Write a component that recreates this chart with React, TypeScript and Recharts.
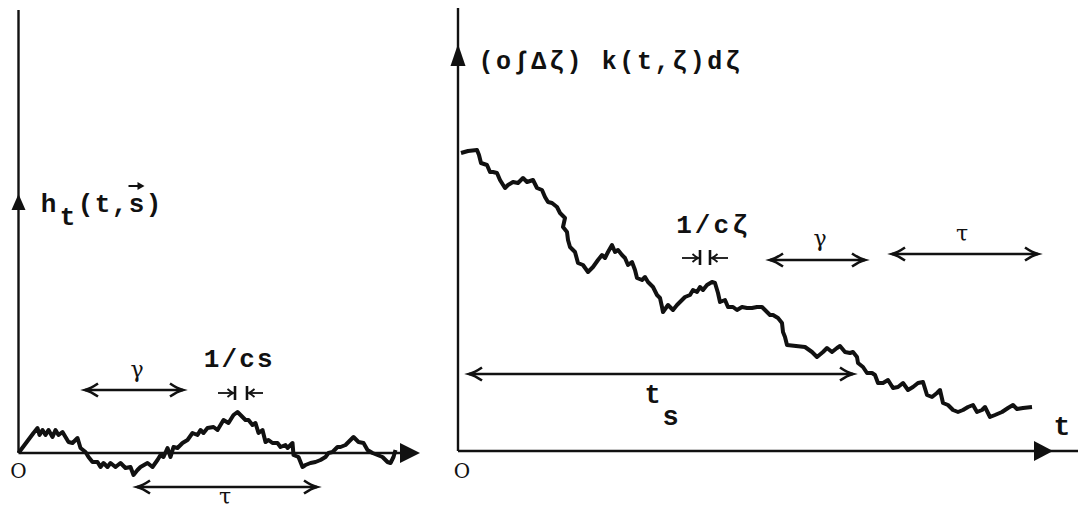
import React from "react";
import { LineChart, Line, XAxis, YAxis, ReferenceLine, ReferenceDot } from "recharts";

// ---------- data: left panel  h_t(t, s) ----------
const leftT = [0,1.5,1.9,2.1,2.4,2.7,3.0,3.4,3.7,4.0,4.4,4.7,5.0,5.4,5.9,6.2,6.7,7.0,7.4,7.9,8.2,8.5,8.9,9.2,9.7,10.2,10.7,11.2,11.5,11.9,12.2,12.9,13.4,13.9,14.2,14.5,14.9,15.2,15.5,15.9,16.4,16.9,17.4,17.9,18.2,18.5,18.9,19.5,19.9,20.2,20.5,21.0,21.5,21.9,22.2,22.7,23.0,23.4,23.7,24.0,24.4,24.7,25.0,25.4,25.9,26.2,26.7,26.9,27.4,27.5,28.0,28.4,28.7,29.2,29.7,30.2,30.7,31.0,31.4,31.9,32.2,32.7,33.2,33.5,34.0,34.5,34.9,35.4,35.9,36.4,36.9,37.2,37.5,37.7];
const leftH = [0,2.0,2.5,1.8,2.3,1.8,2.3,1.6,2.3,1.8,2.1,1.6,1.1,1.0,1.5,0.5,0.1,-0.4,-0.9,-0.9,-1.4,-1.0,-1.4,-1.0,-1.4,-1.0,-1.5,-1.4,-2.2,-1.7,-1.4,-1.0,-1.4,-0.7,-0.2,-0.4,0.5,-0.4,0.6,0.5,1.0,1.3,2.0,1.8,2.3,2.0,2.5,2.6,2.3,2.8,3.3,3.0,3.8,4.1,3.8,3.3,3.3,2.8,3.0,2.0,2.3,1.1,1.3,1.0,1.0,0.6,0.8,0.5,1.0,-0.2,-0.4,-1.4,-1.2,-1.0,-0.9,-0.7,-0.4,0,0.1,0.6,0.6,0.8,1.3,1.6,1.1,1.0,0.3,0,-0.2,-0.4,-0.9,-1.0,-0.4,0.3];

// ---------- data: right panel  (o∫Δζ) k(t,ζ)dζ ----------
const rightT = [0.3,1.0,1.9,2.1,2.3,2.9,3.2,3.5,3.9,4.2,4.7,5.0,5.5,6.0,6.5,6.9,7.5,7.9,8.4,8.7,9.0,9.4,9.9,10.2,10.7,10.5,10.9,11.0,11.2,11.7,12.0,12.5,13.0,13.5,14.0,14.4,14.7,15.0,15.4,15.7,16.0,16.4,16.7,17.0,17.4,17.7,17.9,18.4,18.7,19.0,19.5,19.9,20.2,20.4,20.5,21.0,21.5,21.9,22.4,22.7,23.2,23.5,23.9,24.2,24.5,24.9,25.4,25.7,26.0,26.2,26.7,27.0,27.5,27.9,28.4,28.9,29.4,29.9,30.4,30.7,31.2,31.5,32.0,32.4,32.5,32.7,32.9,34.7,35.4,35.9,36.5,36.9,37.4,37.9,38.2,38.7,39.2,39.5,39.9,40.0,40.5,40.9,41.4,41.7,42.0,42.5,43.0,43.5,44.0,44.5,45.0,45.5,46.0,46.5,46.9,47.4,47.9,48.2,48.5,49.0,49.5,50.0,50.5,51.0,51.5,51.9,52.4,52.7,53.2,53.7,54.4,55.0,55.5,55.9,56.5,57.4];
const rightK = [29.8,30.0,30.1,29.6,28.8,28.6,27.9,27.9,27.8,27.1,26.3,26.6,26.9,26.8,27.3,26.9,27.1,26.3,26.1,25.4,24.9,24.8,24.4,23.8,23.3,22.4,21.9,21.1,20.4,19.9,18.8,18.6,17.9,18.4,19.1,19.6,19.3,19.9,20.6,19.9,20.1,19.6,19.3,18.6,18.9,18.1,17.3,17.1,17.4,16.9,16.4,15.6,15.3,14.4,13.9,14.6,14.1,14.6,15.1,15.4,15.6,16.1,15.9,16.4,16.1,16.6,16.9,16.8,15.8,14.9,15.1,14.4,14.4,14.1,14.4,14.3,14.3,14.4,14.4,14.1,13.6,13.6,13.3,12.8,11.9,11.4,10.6,10.4,9.9,9.4,9.9,10.3,9.9,10.3,10.5,9.9,9.8,9.9,9.4,8.8,8.4,7.8,7.8,7.6,6.8,6.8,7.1,6.3,6.4,6.8,6.1,6.4,6.8,6.9,5.6,5.4,5.8,6.1,4.8,4.6,4.1,3.9,4.1,4.4,4.6,3.9,4.1,4.4,3.4,3.6,3.9,4.3,4.6,4.2,4.3,4.4];

// ---------- annotation spans (chart units) ----------
const leftSpans = [
  { name: "gamma", from: 6.65, to: 16.45, at: 6.3 },
  { name: "tau", from: 11.85, to: 29.85, at: -3.4 },
];
const rightSpans = [
  { name: "gamma", from: 31.2, to: 40.7, at: 19.1 },
  { name: "tau", from: 43.4, to: 58.0, at: 19.7 },
  { name: "ts", from: 1.1, to: 39.5, at: 7.7 },
];
// "→| |←" width marks
const leftMark = { a0: 19.95, b0: 21.65, b1: 22.85, a1: 24.45, at: 6.0, lo: 5.3, hi: 6.7 };
const rightMark = { a0: 22.4, b0: 24.2, b1: 25.2, a1: 27.0, at: 19.3, lo: 18.6, hi: 20.1 };

// axis extents
const leftAxis = { yTop: 44.3, yHead: 25.9, xEnd: 40.15 };
const rightAxis = { yTop: 44.3, yHead: 40.7, xEnd: 62.0, xHead: 59.5 };

const leftData = leftT.map((t, i) => ({ t, h: leftH[i] }));
const rightData = rightT.map((t, i) => ({ t, k: rightK[i] }));

const MONO = '"Liberation Mono", "Courier New", monospace';
const SERIF = '"DejaVu Serif", "Liberation Serif", serif';
const INK = "#111";
const PITCH = 17.6;

// ---------- shapes ----------
const filledUp = (L: number, w: number) => (p: any) => (
  <polygon points={`${p.cx},${p.cy} ${p.cx - w},${p.cy + L} ${p.cx + w},${p.cy + L}`} fill={INK} />
);
const filledRight = (L: number, w: number) => (p: any) => (
  <polygon points={`${p.cx},${p.cy} ${p.cx - L},${p.cy - w} ${p.cx - L},${p.cy + w}`} fill={INK} />
);
const openHead = (dir: number, L: number, w: number, sw: number) => (p: any) => {
  const { cx, cy } = p;
  const bx = cx - dir * L;
  return (
    <path
      d={`M ${bx} ${cy - w} Q ${cx - dir * L * 0.45} ${cy - w * 0.25} ${cx} ${cy} Q ${cx - dir * L * 0.45} ${cy + w * 0.25} ${bx} ${cy + w}`}
      fill="none"
      stroke={INK}
      strokeWidth={sw}
    />
  );
};

// fixed-pitch (typewriter-like) text: each glyph centred in its own cell
const Mono = (s: string, x: number, y: number, size: number, pitch: number = PITCH, font: string = MONO, weight: any = "bold") => {
  const chars = Array.from(s);
  const xs = chars.map((_, i) => (x + i * pitch).toFixed(1)).join(" ");
  return (
    <text x={xs} y={y} fontFamily={font} fontSize={size} fontWeight={weight} textAnchor="middle" fill={INK}>
      {s}
    </text>
  );
};
const txt = (s: string, size: number, pitch: number = PITCH) => (p: any) => Mono(s, p.cx, p.cy, size, pitch);
const greek = (s: string, size: number) => (p: any) => Mono(s, p.cx, p.cy, size, PITCH, SERIF, "normal");

const dot = (key: string, x: number, y: number, shape: any) => (
  <ReferenceDot key={key} x={x} y={y} r={0} ifOverflow="visible" shape={shape} />
);
const seg = (key: string, x0: number, y0: number, x1: number, y1: number, w: number) => (
  <ReferenceLine
    key={key}
    segment={[{ x: x0, y: y0 }, { x: x1, y: y1 }]}
    stroke={INK}
    strokeWidth={w}
    ifOverflow="visible"
  />
);

const spanEls = (spans: any[]) =>
  spans.flatMap((s) => [
    seg(`${s.name}-l`, s.from, s.at, s.to, s.at, 2.6),
    dot(`${s.name}-a`, s.from, s.at, openHead(-1, 13, 6.5, 2.6)),
    dot(`${s.name}-b`, s.to, s.at, openHead(1, 13, 6.5, 2.6)),
  ]);

const markEls = (m: any, pre: string) => [
  seg(`${pre}-la`, m.a0, m.at, m.b0 - 0.15, m.at, 1.8),
  dot(`${pre}-lh`, m.b0 - 0.15, m.at, openHead(1, 6, 4, 1.8)),
  seg(`${pre}-b0`, m.b0, m.lo, m.b0, m.hi, 2.6),
  seg(`${pre}-b1`, m.b1, m.lo, m.b1, m.hi, 2.6),
  seg(`${pre}-ra`, m.a1, m.at, m.b1 + 0.15, m.at, 1.8),
  dot(`${pre}-rh`, m.b1 + 0.15, m.at, openHead(-1, 6, 4, 1.8)),
];

// anchor = centre of "h"
const htLabel = (p: any) => (
  <g>
    {Mono("h", p.cx, p.cy, 26)}
    {Mono("t", p.cx + 19, p.cy + 13, 26)}
    {Mono("(t,s)", p.cx + 37, p.cy, 26, 17)}
    <line x1={p.cx + 80} y1={p.cy - 26} x2={p.cx + 93} y2={p.cy - 26} stroke={INK} strokeWidth={2} />
    <polygon points={`${p.cx + 96},${p.cy - 26} ${p.cx + 89},${p.cy - 30} ${p.cx + 89},${p.cy - 22}`} fill={INK} />
  </g>
);
// anchor = centre of "t"
const tsLabel = (p: any) => (
  <g>
    {Mono("t", p.cx, p.cy, 27)}
    {Mono("s", p.cx + 18, p.cy + 22, 27)}
  </g>
);

export default function App() {
  return (
    <div style={{ position: "absolute", left: 0, top: 0, width: 1080, height: 511, background: "#fff" }}>
      <div style={{ position: "absolute", left: 0, top: 0 }}>
        <LineChart width={440} height={511} margin={{ top: 0, right: 0, bottom: 0, left: 0 }}>
          <XAxis type="number" dataKey="t" domain={[-1.85, 42.15]} allowDataOverflow hide />
          <YAxis type="number" domain={[-5.8, 45.3]} allowDataOverflow hide width={0} />
          {seg("yaxis", 0, 0, 0, leftAxis.yTop, 2.4)}
          {seg("xaxis", 0, 0, leftAxis.xEnd - 1, 0, 2.4)}
          {dot("yhead", 0, leftAxis.yHead, filledUp(16, 7))}
          {dot("xhead", leftAxis.xEnd, 0, filledRight(20, 10))}
          <Line
            data={leftData}
            dataKey="h"
            type="linear"
            dot={false}
            activeDot={false}
            stroke={INK}
            strokeWidth={4}
            strokeLinejoin="round"
            isAnimationActive={false}
          />
          {spanEls(leftSpans)}
          {markEls(leftMark, "lm")}
          {dot("lab-ht", 3.0, 24.1, htLabel)}
          {dot("lab-1cs", 19.3, 8.6, txt("1/cs", 26, 17.8))}
          {dot("lab-g", 11.85, 7.6, greek("γ", 22))}
          {dot("lab-tau", 20.65, -5.1, greek("τ", 22))}
          {dot("lab-o", 0, -2.5, greek("O", 20))}
        </LineChart>
      </div>
      <div style={{ position: "absolute", left: 440, top: 0 }}>
        <LineChart width={640} height={511} margin={{ top: 0, right: 0, bottom: 0, left: 0 }}>
          <XAxis type="number" dataKey="t" domain={[-1.8, 62.2]} allowDataOverflow hide />
          <YAxis type="number" domain={[-6.0, 45.1]} allowDataOverflow hide width={0} />
          {seg("yaxis", 0, 0, 0, rightAxis.yTop, 2.4)}
          {seg("xaxis", 0, 0, rightAxis.xEnd, 0, 2.4)}
          {dot("yhead", 0, rightAxis.yHead, filledUp(22, 7.5))}
          {dot("xhead", rightAxis.xHead, 0, filledRight(19, 10))}
          <Line
            data={rightData}
            dataKey="k"
            type="linear"
            dot={false}
            activeDot={false}
            stroke={INK}
            strokeWidth={4}
            strokeLinejoin="round"
            isAnimationActive={false}
          />
          {spanEls(rightSpans)}
          {markEls(rightMark, "rm")}
          {dot("lab-k", 2.8, 38.2, txt("(o∫Δζ) k(t,ζ)dζ", 25))}
          {dot("lab-1cz", 22.6, 21.8, txt("1/cζ", 26, 18.6))}
          {dot("lab-g", 36.2, 20.5, greek("γ", 22))}
          {dot("lab-tau", 50.4, 21.0, greek("τ", 22))}
          {dot("lab-ts", 19.45, 4.8, tsLabel)}
          {dot("lab-t", 60.4, 1.6, txt("t", 28))}
          {dot("lab-o", 0.4, -2.7, greek("O", 20))}
        </LineChart>
      </div>
    </div>
  );
}
